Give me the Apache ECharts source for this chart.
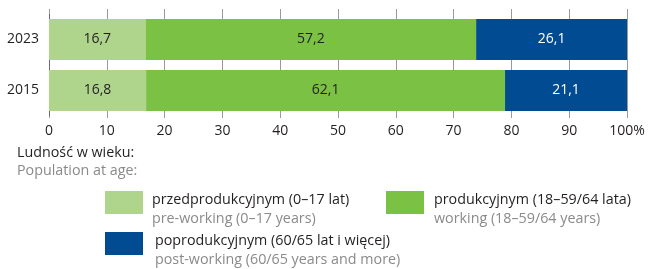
<!DOCTYPE html>
<html>
<head>
<meta charset="utf-8">
<script src="https://cdn.jsdelivr.net/npm/echarts@6/dist/echarts.min.js"></script>
<style>
  html, body { margin: 0; padding: 0; background: #fff; }
  #chart { width: 650px; height: 269px; }
</style>
</head>
<body>
<div id="chart"></div>
<script>
  // data (bottom to top on the y axis)
  var years = ['2015', '2023'];
  var preWorking = [16.8, 16.7];
  var working = [62.1, 57.2];
  var postWorking = [21.1, 26.1];
  var xTicks = [0, 10, 20, 30, 40, 50, 60, 70, 80, 90, 100];

  var namesPl = ['przedprodukcyjnym (0–17 lat)', 'produkcyjnym (18–59/64 lata)', 'poprodukcyjnym (60/65 lat i więcej)'];
  var namesEn = ['pre-working (0–17 years)', 'working (18–59/64 years)', 'post-working (60/65 years and more)'];
  var colors = ['#afd58d', '#7bc143', '#004b91'];

  var font = '"Open Sans", sans-serif';
  var gridColor = '#9a9a9a';

  function fmt(v) { return String(v).replace('.', ','); }

  function legendItem(i, left, top, padLeft) {
    return {
      data: [namesPl[i]],
      left: left,
      top: top,
      padding: 0,
      icon: 'rect',
      itemWidth: 38,
      itemHeight: 23,
      selectedMode: false,
      formatter: function (name) {
        return '{pl|' + name + '}\n{en|' + namesEn[namesPl.indexOf(name)] + '}';
      },
      textStyle: {
        padding: [13, 0, 0, padLeft],
        rich: {
          pl: { fontFamily: font, fontSize: 14.3, color: '#231f20', lineHeight: 19 },
          en: { fontFamily: font, fontSize: 14.3, color: '#8a8a8a', lineHeight: 19 }
        }
      }
    };
  }

  var chart = echarts.init(document.getElementById('chart'));
  var seriesData = [preWorking, working, postWorking];

  chart.setOption({
    animation: false,
    grid: { left: 49, right: 23, top: 14, height: 102 },
    xAxis: [{
      type: 'value',
      min: 0, max: 100, interval: 10,
      axisLine: { show: false },
      axisTick: { show: true, length: 2, lineStyle: { color: gridColor } },
      splitLine: { show: true, lineStyle: { color: gridColor, width: 1 } },
      axisLabel: {
        fontFamily: font, fontSize: 14, color: '#231f20', margin: 8,
        formatter: function (v) { return v === 100 ? '100%' : v; },
        customValues: xTicks
      }
    }, {
      type: 'value',
      position: 'top',
      min: 0, max: 100, interval: 10,
      axisLine: { show: false },
      axisTick: { show: true, length: 5, lineStyle: { color: gridColor } },
      splitLine: { show: false },
      axisLabel: { show: false }
    }],
    yAxis: {
      type: 'category',
      data: years,
      axisLine: { show: true, lineStyle: { color: '#6b6b6b', width: 1 } },
      axisTick: { show: false },
      axisLabel: { fontFamily: font, fontSize: 14, color: '#231f20', margin: 10 }
    },
    legend: [
      legendItem(0, 105, 191, 4),
      legendItem(1, 386, 191, 5),
      legendItem(2, 105, 232, 7)
    ],
    graphic: [{
      type: 'text', left: 17, top: 146,
      style: { text: 'Ludność w wieku:', fontFamily: font, fontSize: 14.3, fill: '#231f20' }
    }, {
      type: 'text', left: 17, top: 164,
      style: { text: 'Population at age:', fontFamily: font, fontSize: 14.3, fill: '#8a8a8a' }
    }],
    series: seriesData.map(function (d, i) {
      return {
        name: namesPl[i],
        type: 'bar',
        stack: 'total',
        data: d,
        barWidth: 41,
        itemStyle: { color: colors[i] },
        label: {
          show: true,
          position: 'inside',
          fontFamily: font,
          fontSize: 14,
          color: i === 2 ? '#ffffff' : '#231f20',
          formatter: function (p) { return fmt(p.value); }
        }
      };
    })
  });
</script>
</body>
</html>
